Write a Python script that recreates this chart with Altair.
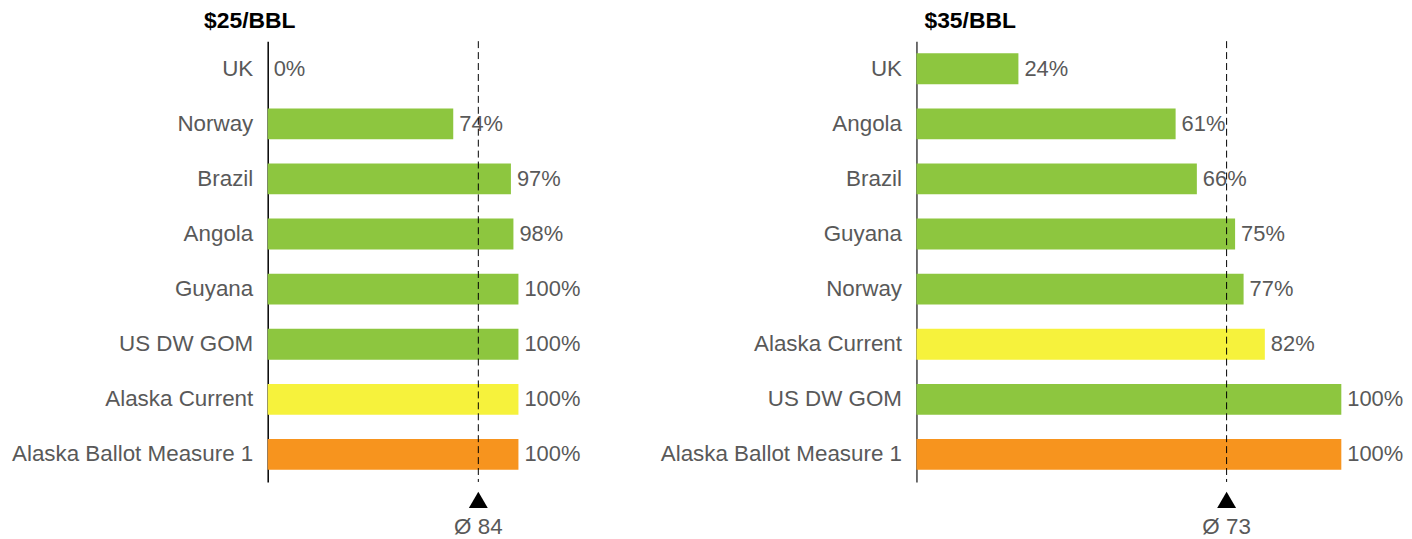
import altair as alt
import pandas as pd

# ---- data ----
left_title = "$25/BBL"
left_countries = ["UK", "Norway", "Brazil", "Angola", "Guyana", "US DW GOM",
                  "Alaska Current", "Alaska Ballot Measure 1"]
left_values = [0, 74, 97, 98, 100, 100, 100, 100]
left_avg = 84

right_title = "$35/BBL"
right_countries = ["UK", "Angola", "Brazil", "Guyana", "Norway", "Alaska Current",
                   "US DW GOM", "Alaska Ballot Measure 1"]
right_values = [24, 61, 66, 75, 77, 82, 100, 100]
right_avg = 73

group_names = ["Other", "Alaska Current", "Alaska Ballot Measure 1"]
group_colors = ["#8DC63F", "#F6F23C", "#F7941E"]

FONT = "Liberation Sans"
LABEL_COLOR = "#595959"
FS = 22.5
VFS = 22
H = 443


def group_of(c):
    return c if c in ("Alaska Current", "Alaska Ballot Measure 1") else "Other"


def panel(title, countries, values, avg, width, xmax, title_dx, axis_color):
    df = pd.DataFrame({
        "country": countries,
        "value": values,
        "group": [group_of(c) for c in countries],
        "label": [f"{v}%" for v in values],
    })
    avg_df = pd.DataFrame({"avg": [avg], "label": [f"Ø {avg}"]})

    x_scale = alt.Scale(domain=[0, xmax], nice=False, zero=True)
    y_enc = alt.Y(
        "country:N", sort=countries,
        scale=alt.Scale(paddingInner=0.44, paddingOuter=0.22),
        axis=alt.Axis(title=None, domainColor=axis_color, domainWidth=1.5,
                      ticks=False, grid=False, labelFont=FONT, labelFontSize=FS,
                      labelColor=LABEL_COLOR, labelPadding=15, labelLimit=0,
                      minExtent=261, maxExtent=261),
    )
    base = alt.Chart(df)
    bars = base.mark_bar().encode(
        x=alt.X("value:Q", scale=x_scale, axis=None),
        y=y_enc,
        color=alt.Color("group:N", scale=alt.Scale(domain=group_names, range=group_colors),
                        legend=None),
    )
    texts = base.mark_text(align="left", baseline="middle", dx=6, font=FONT,
                           fontSize=VFS, color=LABEL_COLOR).encode(
        x=alt.X("value:Q", scale=x_scale, axis=None),
        y=alt.Y("country:N", sort=countries),
        text="label:N",
    )
    avg_base = alt.Chart(avg_df)
    rule = avg_base.mark_rule(color="#000000", strokeDash=[7, 4], strokeWidth=1).encode(
        x=alt.X("avg:Q", scale=x_scale, axis=None),
    )
    tri = avg_base.mark_point(shape="triangle-up", filled=True, size=361, color="#000000",
                              opacity=1).encode(
        x=alt.X("avg:Q", scale=x_scale, axis=None),
        y=alt.value(H + 18),
    )
    lab = avg_base.mark_text(align="center", baseline="middle", font=FONT, fontSize=FS,
                             color=LABEL_COLOR).encode(
        x=alt.X("avg:Q", scale=x_scale, axis=None),
        y=alt.value(H + 45),
        text="label:N",
    )
    return alt.layer(bars, texts, rule, tri, lab).properties(
        width=width, height=H,
        title=alt.TitleParams(title, anchor="start", frame="group", dx=title_dx,
                              font=FONT, fontSize=23, fontWeight="bold", color="#000000",
                              offset=8),
    )


left = panel(left_title, left_countries, left_values, left_avg,
             368, 368 / 252 * 100, -64, "#000000")
right = panel(right_title, right_countries, right_values, right_avg,
              427, 100, 8, "#404040")

chart = alt.hconcat(left, right, spacing=23).properties(
    padding={"left": 0, "top": 0, "right": 0, "bottom": 0}
).configure_view(stroke=None).configure_concat(spacing=23)

chart.save("out.html", embed_options={"renderer": "svg", "actions": False})
